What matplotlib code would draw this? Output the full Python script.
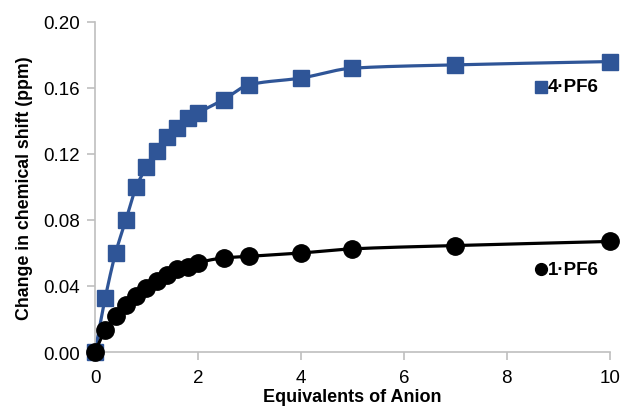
import numpy as np
import matplotlib.pyplot as plt

plt.rcParams['font.family'] = ['Liberation Sans', 'DejaVu Sans']

equiv = [0, 0.2, 0.4, 0.6, 0.8, 1.0, 1.2, 1.4, 1.6, 1.8, 2.0, 2.5, 3, 4, 5, 7, 10]
shift_4pf6 = [0, 0.033, 0.060, 0.080, 0.100, 0.112, 0.122, 0.130, 0.136, 0.142,
              0.145, 0.153, 0.162, 0.166, 0.172, 0.174, 0.176]
shift_1pf6 = [0, 0.0135, 0.022, 0.0285, 0.034, 0.039, 0.043, 0.0465, 0.050, 0.0515,
              0.054, 0.057, 0.058, 0.060, 0.0625, 0.0645, 0.067]

blue = '#2F5597'
grey = '#BFBFBF'


def smooth(x, y, n=30):
    # monotone cubic (Fritsch-Carlson) so the curve looks like Excel's smoothed line
    x = np.asarray(x, float)
    y = np.asarray(y, float)
    h = np.diff(x)
    d = np.diff(y) / h
    m = np.zeros_like(y)
    m[0], m[-1] = d[0], d[-1]
    for i in range(1, len(x) - 1):
        if d[i - 1] * d[i] > 0:
            w1 = 2 * h[i] + h[i - 1]
            w2 = h[i] + 2 * h[i - 1]
            m[i] = (w1 + w2) / (w1 / d[i - 1] + w2 / d[i])
    xs, ys = [], []
    t = np.linspace(0, 1, n)
    for i in range(len(x) - 1):
        h00 = 2 * t ** 3 - 3 * t ** 2 + 1
        h10 = t ** 3 - 2 * t ** 2 + t
        h01 = -2 * t ** 3 + 3 * t ** 2
        h11 = t ** 3 - t ** 2
        xs.extend(x[i] + t * h[i])
        ys.extend(h00 * y[i] + h10 * h[i] * m[i] + h01 * y[i + 1] + h11 * h[i] * m[i + 1])
    return xs, ys


fig = plt.figure(figsize=(6.23, 4.10), dpi=100)
ax = fig.add_axes([0.1525, 0.139, 0.826, 0.805])

sx, sy = smooth(equiv, shift_4pf6)
ax.plot(sx, sy, color=blue, lw=2.3, zorder=2)
ax.plot(equiv, shift_4pf6, 's', color=blue, ms=12, zorder=3, clip_on=False)

sx, sy = smooth(equiv, shift_1pf6)
ax.plot(sx, sy, color='black', lw=2.3, zorder=4)
ax.plot(equiv, shift_1pf6, 'o', color='black', ms=12.5, zorder=5, clip_on=False)

ax.set_xlim(0, 10)
ax.set_ylim(0, 0.20)
ax.set_xticks([0, 2, 4, 6, 8, 10])
ax.set_yticks(np.arange(0, 0.201, 0.04))
ax.yaxis.set_major_formatter(plt.FormatStrFormatter('%.2f'))

for s in ['top', 'right']:
    ax.spines[s].set_visible(False)
for s in ['left', 'bottom']:
    ax.spines[s].set_color(grey)
    ax.spines[s].set_linewidth(1.2)
ax.tick_params(colors=grey, labelcolor='black', labelsize=13.5, length=6, width=1.2, pad=5)
ax.tick_params(axis='x', pad=6)

ax.set_xlabel('Equivalents of Anion', fontsize=13, fontweight='bold', labelpad=2)
ax.set_ylabel('Change in chemical shift (ppm)', fontsize=12.8, fontweight='bold', labelpad=7)

# series labels
ax.plot([0.866], [0.803], 's', color=blue, ms=8.5, transform=ax.transAxes, clip_on=False)
ax.text(0.880, 0.803, '4·PF6', transform=ax.transAxes, fontsize=13.5, fontweight='bold', va='center')
ax.plot([0.866], [0.2515], 'o', color='black', ms=8.5, transform=ax.transAxes, clip_on=False)
ax.text(0.880, 0.2515, '1·PF6', transform=ax.transAxes, fontsize=13.5, fontweight='bold', va='center')

fig.savefig('out.png', dpi=100)
